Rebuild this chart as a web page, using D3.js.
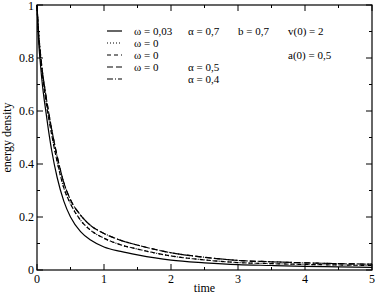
<!DOCTYPE html>
<html>
<head>
<meta charset="utf-8">
<script src="https://cdn.jsdelivr.net/npm/d3@7"></script>
<style>
  body { margin: 0; background: #fff; }
</style>
</head>
<body>
<div id="chart"></div>
<script>
// sample times
var times = [0, 0.02, 0.05, 0.08, 0.12, 0.17, 0.22, 0.3, 0.4, 0.5, 0.65, 0.8, 1.0, 1.25, 1.5, 2, 2.5, 3, 3.5, 4, 4.5, 5]
// energy density
var solidVals = [1, 0.88, 0.78, 0.70, 0.62, 0.53, 0.45, 0.35, 0.26, 0.2, 0.145, 0.113, 0.087, 0.07, 0.057, 0.037, 0.027, 0.02, 0.017, 0.014, 0.012, 0.01]
var midVals = [1, 0.9, 0.81, 0.74, 0.66, 0.58, 0.51, 0.41, 0.31, 0.25, 0.188, 0.15, 0.12, 0.095, 0.079, 0.053, 0.038, 0.028, 0.024, 0.021, 0.019, 0.017]
var topVals = [1, 0.91, 0.82, 0.75, 0.68, 0.6, 0.53, 0.43, 0.33, 0.265, 0.207, 0.168, 0.138, 0.112, 0.094, 0.065, 0.048, 0.036, 0.031, 0.027, 0.024, 0.022]

var series = [
  {name: "w003", vals: solidVals, dash: null},
  {name: "w0a", vals: midVals, dash: "1,2"},
  {name: "w0b", vals: midVals, dash: "4,3"},
  {name: "a05", vals: topVals, dash: "6,3"},
  {name: "a04", vals: topVals, dash: "6,2,1,2"}
]

// legend text columns
var legendCol1 = ["\u03c9 = 0,03", "\u03c9 = 0", "\u03c9 = 0", "\u03c9 = 0", ""]
var legendCol2 = ["\u03b1 = 0,7", "", "", "\u03b1 = 0,5", "\u03b1 = 0,4"]
var legendCol3 = ["b = 0,7", "", "", "", ""]
var legendCol4 = ["v(0) = 2", "", "a(0) = 0,5", "", ""]

var xTicks = [0, 1, 2, 3, 4, 5]
var yTicks = [0, 0.2, 0.4, 0.6, 0.8, 1]

document.addEventListener("DOMContentLoaded", function() {
  draw()
});

function draw(){
  var width = 376, height = 294
  var left = 37, right = 372, top = 5, bottom = 270

  var svg = d3.select("#chart").append("svg")
    .attr("width", width)
    .attr("height", height)
    .attr("font-family", "'Liberation Serif', 'Times New Roman', 'DejaVu Serif', serif")

  var x = d3.scaleLinear().domain([0, 5]).range([left, right])
  var y = d3.scaleLinear().domain([0, 1]).range([bottom, top])

  var minorX = d3.range(0, 5.01, 0.5)
  var minorY = d3.range(0, 1.001, 0.1)

  // ticks on all four sides, pointing inward
  var g = svg.append("g").attr("stroke", "#000").attr("stroke-width", 1)
  minorX.forEach(function(t, i){
    var len = (i % 2 == 0) ? 6 : 3
    g.append("line").attr("x1", x(t)).attr("x2", x(t)).attr("y1", bottom).attr("y2", bottom - len)
    g.append("line").attr("x1", x(t)).attr("x2", x(t)).attr("y1", top).attr("y2", top + len)
  })
  minorY.forEach(function(v, i){
    var len = (i % 2 == 0) ? 6 : 3
    g.append("line").attr("x1", left).attr("x2", left + len).attr("y1", y(v)).attr("y2", y(v))
    g.append("line").attr("x1", right).attr("x2", right - len).attr("y1", y(v)).attr("y2", y(v))
  })

  svg.selectAll("text.xt")
    .data(xTicks)
    .enter().append("text")
    .attr("class", "xt")
    .attr("x", d => x(d))
    .attr("y", bottom + 13)
    .attr("text-anchor", "middle")
    .attr("font-size", 12)
    .text(d => d)

  svg.selectAll("text.yt")
    .data(yTicks)
    .enter().append("text")
    .attr("class", "yt")
    .attr("x", left - 3)
    .attr("y", d => Math.max(y(d) + 4, 10))
    .attr("text-anchor", "end")
    .attr("font-size", 12)
    .text(d => d)

  svg.append("text")
    .attr("x", (left + right) / 2)
    .attr("y", bottom + 22)
    .attr("text-anchor", "middle")
    .attr("font-size", 12)
    .text("time")

  svg.append("text")
    .attr("transform", "translate(11," + ((top + bottom) / 2) + ") rotate(-90)")
    .attr("text-anchor", "middle")
    .attr("font-size", 12)
    .text("energy density")

  var line = d3.line()
    .x((d, i) => x(times[i]))
    .y(d => y(d))
    .curve(d3.curveMonotoneX)

  svg.selectAll("path.curve")
    .data(series)
    .enter().append("path")
    .attr("class", "curve")
    .attr("fill", "none")
    .attr("stroke", "#000")
    .attr("stroke-width", 1.2)
    .attr("stroke-dasharray", d => d.dash)
    .attr("d", d => line(d.vals))

  // legend
  var leg = svg.append("g").attr("font-size", 11)
  var cols = [[legendCol1, 134], [legendCol2, 188], [legendCol3, 238], [legendCol4, 288]]
  series.forEach(function(s, i){
    var ly = 31 + i * 12
    leg.append("line")
      .attr("x1", 107).attr("x2", 122)
      .attr("y1", ly).attr("y2", ly)
      .attr("stroke", "#000").attr("stroke-width", 1.2)
      .attr("stroke-dasharray", s.dash)
    cols.forEach(function(c){
      if(c[0][i] !== "") {
        leg.append("text").attr("x", c[1]).attr("y", ly + 4).text(c[0][i])
      }
    })
  })

  // frame
  svg.append("rect")
    .attr("x", left).attr("y", top)
    .attr("width", right - left).attr("height", bottom - top)
    .attr("fill", "none").attr("stroke", "#000").attr("stroke-width", 1.2)
}
</script>
</body>
</html>
